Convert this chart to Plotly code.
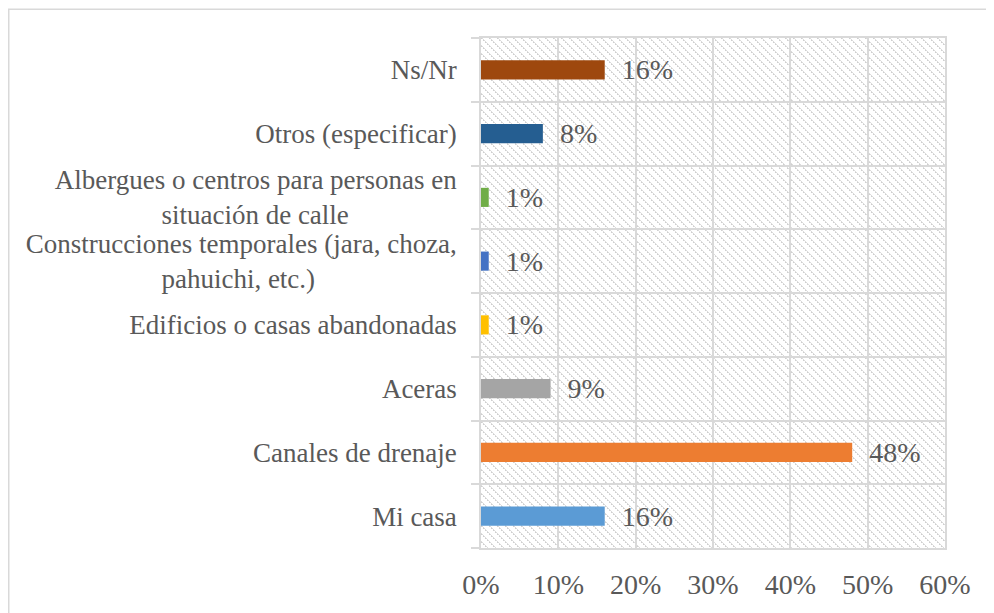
import base64
import plotly.graph_objects as go

NB = "\u00a0"
categories = [
    "Mi casa",
    "Canales de drenaje",
    "Aceras",
    "Edificios o casas abandonadas",
    "Construcciones temporales (jara, choza,<br>pahuichi, etc.)" + NB * 21,
    "Albergues o centros para personas en<br>situación de calle" + NB * 16,
    "Otros (especificar)",
    "Ns/Nr",
]
category_keys = ["c%d" % i for i in range(len(categories))]
values = [16, 48, 9, 1, 1, 1, 8, 16]
colors = ["#5B9BD5", "#ED7D31", "#A5A5A5", "#FFC000", "#4472C4", "#70AD47", "#255E91", "#9E480E"]
x_ticks = [0, 10, 20, 30, 40, 50, 60]
x_ticktext = [f"{v}%" for v in x_ticks]
bar_text = [NB + NB + f"{v}%" for v in values]

FONT = "'Liberation Serif', 'DejaVu Serif', serif"
GRAY = "#595959"
GRID = "#d9d9d9"

W, H = 994, 613
L, R, T, B = 473, 57, 30, 73
pw, ph = W - L - R, H - T - B

# 8x8 pixel tile emulating the fine downward-diagonal hatch
rects = []
for i in range(8):
    if i % 2 == 0:
        rects.append(f'<rect x="{i}" y="{i}" width="1" height="1" fill="#cfcfcf"/>')
    rects.append(f'<rect x="{(i + 1) % 8}" y="{i}" width="1" height="1" fill="#dcdcdc"/>')
svg = (
    f'<svg xmlns="http://www.w3.org/2000/svg" width="{pw}" height="{ph}" shape-rendering="crispEdges">'
    '<defs><pattern id="p" width="8" height="8" patternUnits="userSpaceOnUse">'
    + "".join(rects) +
    '</pattern></defs>'
    f'<rect width="{pw}" height="{ph}" fill="white"/>'
    f'<rect width="{pw}" height="{ph}" fill="url(#p)"/></svg>'
)
src = "data:image/svg+xml;base64," + base64.b64encode(svg.encode()).decode()

fig = go.Figure(
    go.Bar(
        x=values,
        y=category_keys,
        orientation="h",
        marker=dict(color=colors, line=dict(width=0)),
        text=bar_text,
        texttemplate="%{text}",
        textposition="outside",
        constraintext="none",
        textfont=dict(family=FONT, size=28, color=GRAY),
        cliponaxis=False,
        width=0.3,
        hoverinfo="skip",
    )
)

fig.add_layout_image(
    source=src, xref="x domain", yref="y domain", x=0, y=1,
    sizex=1, sizey=1, sizing="stretch", layer="below",
    xanchor="left", yanchor="top",
)

fig.add_shape(
    type="rect", xref="paper", yref="paper",
    x0=(0.75 - L) / pw, x1=(W - 0.75 - L) / pw,
    y0=-(H - 0.75 - (H - B)) / ph, y1=1 + (T - 1.25) / ph,
    line=dict(color=GRID, width=1.5), fillcolor="rgba(0,0,0,0)", layer="below",
)

fig.update_layout(
    width=W, height=H,
    margin=dict(l=L, r=R, t=T, b=B, autoexpand=False),
    paper_bgcolor="white",
    plot_bgcolor="rgba(0,0,0,0)",
    showlegend=False,
    bargap=0.7,
    font=dict(family=FONT, color=GRAY),
)
fig.update_xaxes(
    range=[0, 60], tickvals=x_ticks, ticktext=x_ticktext,
    showgrid=True, gridcolor=GRID, gridwidth=1.5,
    showline=True, mirror=True, linecolor=GRID, linewidth=1.5,
    zeroline=False, ticks="",
    tickfont=dict(family=FONT, size=28, color=GRAY),
    ticklabelstandoff=11,
)
fig.update_yaxes(
    type="category", categoryorder="array", categoryarray=category_keys,
    tickvals=category_keys, ticktext=categories,
    tickson="boundaries", ticks="outside", ticklen=8, tickcolor=GRID, tickwidth=1.5,
    showgrid=True, gridcolor=GRID, gridwidth=1.5,
    showline=True, mirror=True, linecolor=GRID, linewidth=1.5,
    tickfont=dict(family=FONT, size=27, color=GRAY),
    ticklabelstandoff=17,
)

fig.write_html("out.html")
